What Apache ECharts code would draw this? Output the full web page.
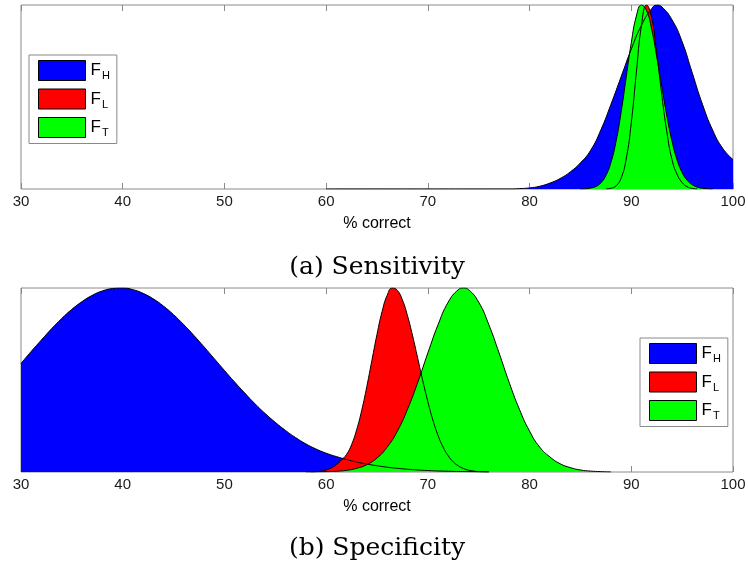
<!DOCTYPE html>
<html><head><meta charset="utf-8">
<script src="https://cdn.jsdelivr.net/npm/echarts/dist/echarts.min.js"></script>
<style>html,body{margin:0;padding:0;background:#fff}#c{width:748px;height:568px}</style>
</head><body><div id="c"></div>
<script>
// x axis ticks
const xMin = 30, xMax = 100, xStep = 10;
const seriesNames = ['FH', 'FL', 'FT'];
const captionA = '(a) Sensitivity';
const captionB = '(b) Specificity';
const axisTitle = '% correct';

// (a) Sensitivity
const aH_x = [60,65,70,75,78,79,80,81,82,83,84,85,86,87,88,89,90,91,92,92.5,93,94,95,96,97,98,99,100];
const aH_y = [0,0,0,0,0,0.002,0.006,0.015,0.032,0.057,0.093,0.142,0.21,0.32,0.46,0.61,0.76,0.89,0.98,1,0.99,0.92,0.80,0.63,0.46,0.32,0.22,0.16];
const aL_x = [87.5,88,88.5,89,89.5,90,90.5,91,91.5,92,92.5,93,93.5,94,94.5,95,95.5,96,96.5];
const aL_y = [0,0.004,0.017,0.059,0.163,0.36,0.635,0.89,1,0.93,0.74,0.51,0.31,0.16,0.08,0.035,0.012,0.003,0];
const aT_x = [85,85.5,86,86.5,87,87.5,88,88.5,89,89.5,90,90.5,91,91.5,92,92.5,93,93.5,94,94.5,95,95.5,96,96.5,97,97.5,98];
const aT_y = [0,0.001,0.005,0.013,0.033,0.073,0.144,0.258,0.417,0.607,0.795,0.94,1,0.97,0.87,0.72,0.556,0.396,0.261,0.159,0.09,0.047,0.023,0.010,0.004,0.001,0];

// (b) Specificity
const bH_x = [30,31,32,33,34,35,36,37,38,39,40,41,42,43,44,45,46,47,48,49,50,51,52,53,54,55,56,57,58,59,60,61,62,63,64,65,66,67,68,69,70,72,74,76];
const bH_y = [0.59,0.655,0.717,0.778,0.834,0.884,0.926,0.96,0.984,0.997,1,0.991,0.971,0.941,0.902,0.855,0.801,0.742,0.68,0.616,0.552,0.489,0.429,0.371,0.318,0.27,0.226,0.187,0.153,0.125,0.102,0.084,0.068,0.054,0.043,0.034,0.026,0.02,0.015,0.011,0.008,0.004,0.002,0];
const bL_x = [58.5,59,59.5,60,60.5,61,61.5,62,62.5,63,63.5,64,64.5,65,65.5,66,66.5,67,67.5,68,68.5,69,69.5,70,70.5,71,71.5,72,72.5,73,73.5,74,74.5,75,76];
const bL_y = [0,0.002,0.005,0.011,0.022,0.04,0.065,0.095,0.149,0.23,0.336,0.465,0.607,0.748,0.872,0.96,1,0.987,0.935,0.849,0.74,0.619,0.496,0.382,0.281,0.199,0.135,0.088,0.055,0.033,0.019,0.01,0.005,0.002,0];
const bT_x = [58,59,60,61,62,63,64,65,66,67,68,69,70,71,72,73,73.5,74,75,76,77,78,79,80,81,82,83,84,85,86,87,88];
const bT_y = [0,0.001,0.002,0.004,0.009,0.02,0.04,0.076,0.135,0.222,0.341,0.486,0.647,0.80,0.923,0.991,1,0.991,0.923,0.80,0.647,0.486,0.341,0.222,0.135,0.082,0.045,0.024,0.011,0.005,0.002,0];

const colors = {FH: '#0000ff', FL: '#ff0000', FT: '#00ff00'};
const pairs = (xs, ys) => xs.map((x, i) => [x, ys[i]]);

const SMOOTH = 0.5;
function fill(name, xs, ys, xi, yi) {
  return {type: 'line', name, xAxisIndex: xi, yAxisIndex: yi, data: pairs(xs, ys),
    showSymbol: false, smooth: SMOOTH, silent: true, z: 2,
    itemStyle: {color: colors[name]}, lineStyle: {width: 0, color: colors[name]},
    areaStyle: {color: colors[name], opacity: 1}};
}
function outline(name, xs, ys, xi, yi) {
  return {type: 'line', name: name + '_outline', xAxisIndex: xi, yAxisIndex: yi, data: pairs(xs, ys),
    showSymbol: false, smooth: SMOOTH, silent: true, z: 3,
    lineStyle: {width: 1, color: '#000'}};
}

const gridBox = {show: true, borderColor: '#8a8a8a', borderWidth: 1, backgroundColor: '#fff', outerBoundsMode: 'none', containLabel: false};
function xBottom(gi) {
  return {type: 'value', gridIndex: gi, min: xMin, max: xMax, interval: xStep, position: 'bottom',
    axisLine: {show: false}, splitLine: {show: false},
    axisTick: {show: true, inside: true, length: 6, lineStyle: {color: '#8a8a8a'}},
    axisLabel: {show: true, margin: 5, color: '#1a1a1a', fontFamily: 'Liberation Sans', fontSize: 15}};
}
function xTop(gi) {
  return {type: 'value', gridIndex: gi, min: xMin, max: xMax, interval: xStep, position: 'top',
    axisLine: {show: false}, splitLine: {show: false},
    axisTick: {show: true, inside: true, length: 6, lineStyle: {color: '#8a8a8a'}},
    axisLabel: {show: false}};
}
function yAx(gi) {
  return {type: 'value', gridIndex: gi, min: 0, max: 1, show: true,
    axisLine: {show: false}, axisTick: {show: false}, axisLabel: {show: false}, splitLine: {show: false}};
}
function legend(left, top) {
  return {data: seriesNames, orient: 'vertical', left, top, itemWidth: 47, itemHeight: 20, itemGap: 7,
    padding: [5, 7, 5, 9], borderColor: '#8a8a8a', borderWidth: 1, backgroundColor: '#fff',
    icon: 'rect', selectedMode: false, itemStyle: {borderColor: '#000', borderWidth: 1},
    formatter: n => '{f|F}{s|' + n.slice(1) + '}',
    textStyle: {rich: {
      f: {fontSize: 17, fontFamily: 'Liberation Sans', color: '#000'},
      s: {fontSize: 11, fontFamily: 'Liberation Sans', color: '#000', padding: [11, 0, 0, 1]}
    }}};
}
function txt(text, x, y, font) {
  return {type: 'text', x, y, silent: true, style: {text, font, fill: '#000', textAlign: 'center', textVerticalAlign: 'middle'}};
}

const chart = echarts.init(document.getElementById('c'), null, {renderer: 'canvas'});
chart.setOption({
  animation: false,
  backgroundColor: '#fff',
  grid: [
    Object.assign({left: 21, top: 5, width: 712, height: 184}, gridBox),
    Object.assign({left: 21, top: 288, width: 712, height: 184}, gridBox)
  ],
  xAxis: [xBottom(0), xTop(0), xBottom(1), xTop(1)],
  yAxis: [yAx(0), yAx(1)],
  legend: [legend(29, 55), legend(640, 338)],
  series: [
    fill('FH', aH_x, aH_y, 0, 0), fill('FL', aL_x, aL_y, 0, 0), fill('FT', aT_x, aT_y, 0, 0),
    outline('FH', aH_x, aH_y, 0, 0), outline('FL', aL_x, aL_y, 0, 0), outline('FT', aT_x, aT_y, 0, 0),
    fill('FH', bH_x, bH_y, 2, 1), fill('FL', bL_x, bL_y, 2, 1), fill('FT', bT_x, bT_y, 2, 1),
    outline('FH', bH_x, bH_y, 2, 1), outline('FL', bL_x, bL_y, 2, 1), outline('FT', bT_x, bT_y, 2, 1)
  ],
  graphic: [
    txt(axisTitle, 377, 224, '16px "Liberation Sans"'),
    txt(captionA, 377, 267, '25px "DejaVu Serif"'),
    txt(axisTitle, 377, 507, '16px "Liberation Sans"'),
    txt(captionB, 377, 548, '25px "DejaVu Serif"')
  ]
});
</script>
</body></html>
